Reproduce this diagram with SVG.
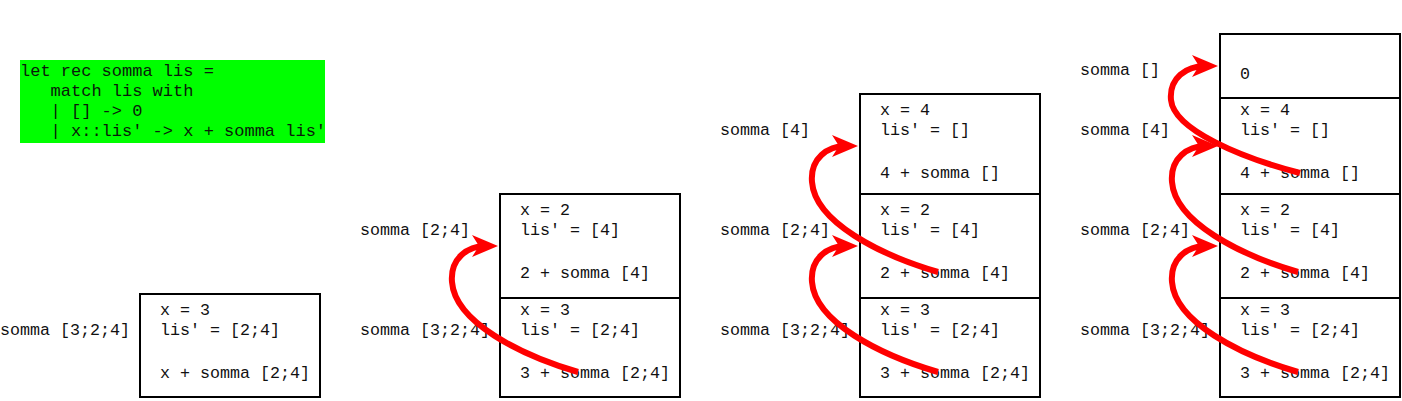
<svg xmlns="http://www.w3.org/2000/svg" width="1402" height="401" viewBox="0 0 1402 401">
<style>
.t{font-family:"Liberation Mono","Courier New",monospace;font-size:16.67px;fill:#111;white-space:pre}
.c{font-family:"Liberation Mono","Courier New",monospace;font-size:17px;fill:#0a1a0a;white-space:pre}
.f{fill:#fff;stroke:#000;stroke-width:2}
.a{fill:none;stroke:#ff0000;stroke-width:6;marker-end:url(#ah)}
</style>
<defs>
<marker id="ah" viewBox="0 0 26 22" refX="14" refY="11" markerWidth="26" markerHeight="22" markerUnits="userSpaceOnUse" orient="auto">
<path d="M0,0 L26,11 L0,22 L7,11 Z" fill="#ff0000"/>
</marker>
</defs>
<rect width="1402" height="401" fill="#fff"/>

<g id="code">
<rect x="20" y="60" width="305" height="83" fill="#00ff00"/>
<text class="c" x="20" y="76">let rec somma lis =</text>
<text class="c" x="20" y="96">   match lis with</text>
<text class="c" x="20" y="116">   | [] -&gt; 0</text>
<text class="c" x="20" y="136">   | x::lis' -&gt; x + somma lis'</text>
</g>

<!-- stack 1 -->
<g id="s1-label"><text class="t" x="0" y="335">somma [3;2;4]</text></g>
<g id="s1-f1">
<rect class="f" x="140" y="294" width="180" height="103"/>
<text class="t" x="160" y="315">x = 3</text>
<text class="t" x="160" y="335">lis' = [2;4]</text>
<text class="t" x="160" y="378">x + somma [2;4]</text>
</g>

<!-- stack 2 -->
<g id="s2-labels">
<text class="t" x="360" y="235">somma [2;4]</text>
<text class="t" x="360" y="335">somma [3;2;4]</text>
</g>
<g id="s2-f2">
<rect class="f" x="500" y="194" width="180" height="104"/>
<text class="t" x="520" y="215">x = 2</text>
<text class="t" x="520" y="235">lis' = [4]</text>
<text class="t" x="520" y="278">2 + somma [4]</text>
</g>
<g id="s2-f1">
<rect class="f" x="500" y="298" width="180" height="99"/>
<text class="t" x="520" y="315">x = 3</text>
<text class="t" x="520" y="335">lis' = [2;4]</text>
<text class="t" x="520" y="378">3 + somma [2;4]</text>
</g>

<!-- stack 3 -->
<g id="s3-labels">
<text class="t" x="720" y="135">somma [4]</text>
<text class="t" x="720" y="235">somma [2;4]</text>
<text class="t" x="720" y="335">somma [3;2;4]</text>
</g>
<g id="s3-f3">
<rect class="f" x="860" y="94" width="180" height="100"/>
<text class="t" x="880" y="115">x = 4</text>
<text class="t" x="880" y="135">lis' = []</text>
<text class="t" x="880" y="178">4 + somma []</text>
</g>
<g id="s3-f2">
<rect class="f" x="860" y="194" width="180" height="104"/>
<text class="t" x="880" y="215">x = 2</text>
<text class="t" x="880" y="235">lis' = [4]</text>
<text class="t" x="880" y="278">2 + somma [4]</text>
</g>
<g id="s3-f1">
<rect class="f" x="860" y="298" width="180" height="99"/>
<text class="t" x="880" y="315">x = 3</text>
<text class="t" x="880" y="335">lis' = [2;4]</text>
<text class="t" x="880" y="378">3 + somma [2;4]</text>
</g>

<!-- stack 4 -->
<g id="s4-labels">
<text class="t" x="1080" y="75">somma []</text>
<text class="t" x="1080" y="135">somma [4]</text>
<text class="t" x="1080" y="235">somma [2;4]</text>
<text class="t" x="1080" y="335">somma [3;2;4]</text>
</g>
<g id="s4-f4">
<rect class="f" x="1220" y="34" width="180" height="64"/>
<text class="t" x="1240" y="79">0</text>
</g>
<g id="s4-f3">
<rect class="f" x="1220" y="98" width="180" height="96"/>
<text class="t" x="1240" y="115">x = 4</text>
<text class="t" x="1240" y="135">lis' = []</text>
<text class="t" x="1240" y="178">4 + somma []</text>
</g>
<g id="s4-f2">
<rect class="f" x="1220" y="194" width="180" height="104"/>
<text class="t" x="1240" y="215">x = 2</text>
<text class="t" x="1240" y="235">lis' = [4]</text>
<text class="t" x="1240" y="278">2 + somma [4]</text>
</g>
<g id="s4-f1">
<rect class="f" x="1220" y="298" width="180" height="99"/>
<text class="t" x="1240" y="315">x = 3</text>
<text class="t" x="1240" y="335">lis' = [2;4]</text>
<text class="t" x="1240" y="378">3 + somma [2;4]</text>
</g>

<g id="connectors">
<path class="a" d="M578,372 C520,355 455,322 452,282 C450,258 468,246 486,246"/>
<path class="a" d="M938,372 C880,355 815,322 812,282 C810,258 828,246 846,246"/>
<path class="a" d="M938,272 C880,255 815,222 812,182 C810,158 828,146 846,146"/>
<path class="a" d="M1298,372 C1240,355 1175,322 1172,282 C1170,258 1188,246 1206,246"/>
<path class="a" d="M1298,272 C1240,255 1175,222 1172,182 C1170,158 1188,146 1206,146"/>
<path class="a" d="M1300,173 C1242,158 1174,130 1171,100 C1169,78 1186,66 1206,66"/>
</g>
</svg>
